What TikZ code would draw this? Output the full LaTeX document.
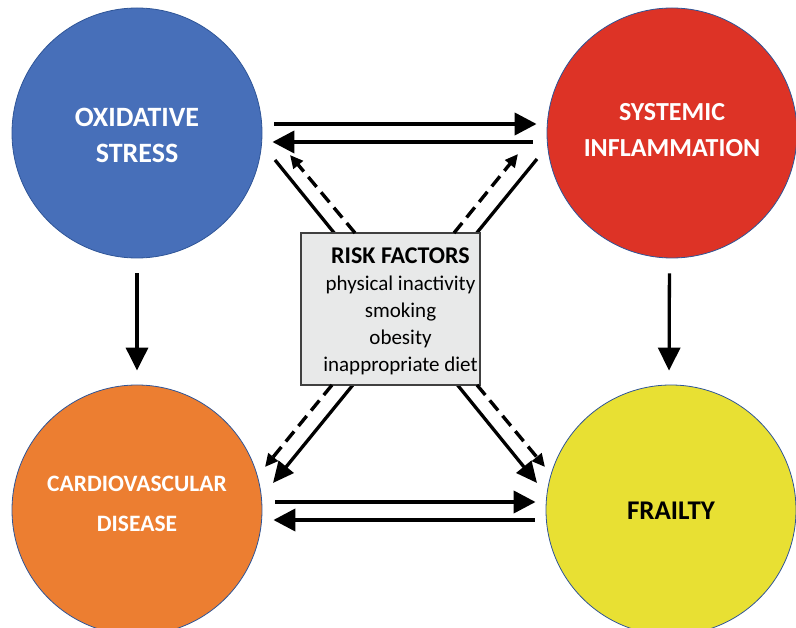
\documentclass[tikz,border=0pt]{standalone}
\usepackage{fontspec}
\setmainfont{Carlito}
\usetikzlibrary{arrows.meta}
\definecolor{cblue}{HTML}{476FB9}
\definecolor{cred}{HTML}{DD3326}
\definecolor{corange}{HTML}{EC7E31}
\definecolor{cyellow}{HTML}{E8E033}
\definecolor{cedge}{HTML}{2F5597}
\definecolor{boxfill}{HTML}{E8E9E9}
\definecolor{boxedge}{HTML}{404040}
\begin{document}
\begin{tikzpicture}[x=1pt,y=-1pt,
  bubble/.style={circle, minimum size=250pt, inner sep=0pt, draw=cedge, line width=0.8pt},
  bubbletext/.style={inner sep=0pt, align=center, font=\bfseries},
  harrow/.style={line width=4pt, -{Triangle[length=22pt,width=22pt]}},
  varrow/.style={line width=3.3pt, -{Triangle[length=23pt,width=22pt]}},
  darrow/.style={line width=3.3pt, -{Triangle[length=21pt,width=19pt]}},
  dasharrow/.style={line width=3.4pt, dash pattern=on 13pt off 7pt, -{Triangle[length=13pt,width=12pt]}},
  riskbox/.style={rectangle, minimum width=179pt, minimum height=152pt, inner sep=0pt,
    fill=boxfill, draw=boxedge, line width=1.2pt},
  risktext/.style={inner sep=0pt, align=center, font=\fontsize{21}{27}\selectfont}]
\clip (0,0) rectangle (796,628);
\useasboundingbox (0,0) rectangle (796,628);

\node[bubble, fill=cblue] (ox) at (137,133) {};
\node[bubble, fill=cred] (si) at (672,133) {};
\node[bubble, fill=corange] (cvd) at (137,510) {};
\node[bubble, fill=cyellow] (fr) at (671,510) {};

\node[bubbletext, text=white, font=\fontsize{28}{36}\selectfont\bfseries] (oxt) at ([yshift=-2pt]ox.center) {OXIDATIVE\\STRESS};
\node[bubbletext, text=white, font=\fontsize{26}{36}\selectfont\bfseries] (sit) at ([yshift=3pt]si.center) {SYSTEMIC\\INFLAMMATION};
\node[bubbletext, text=white, font=\fontsize{23.5}{40}\selectfont\bfseries] (cvdt) at ([yshift=6pt]cvd.center) {CARDIOVASCULAR\\DISEASE};
\node[bubbletext, text=black, font=\fontsize{27}{36}\selectfont\bfseries] (frt) at ([yshift=-1pt]fr.center) {FRAILTY};

% horizontal arrows
\draw[harrow, shorten <=12pt, shorten >=10pt] ([yshift=9pt]ox.east) -- ([yshift=9pt]si.west);
\draw[harrow, shorten <=14pt, shorten >=10pt] ([yshift=-9pt]si.west) -- ([yshift=-9pt]ox.east);
\draw[harrow, shorten <=13pt, shorten >=10pt] ([yshift=8pt]cvd.east) -- ([yshift=8pt]fr.west);
\draw[harrow, shorten <=11pt, shorten >=11pt] ([yshift=-10pt]fr.west) -- ([yshift=-10pt]cvd.east);

% vertical arrows
\draw[varrow, shorten <=15pt, shorten >=14pt] (ox.south) -- (cvd.north);
\draw[varrow, shorten <=15pt, shorten >=14pt] ([xshift=-2.5pt]si.south) -- ([xshift=-2pt]fr.north);

% diagonal solid arrows (behind box)
\coordinate (a1) at (275,160);
\coordinate (a2) at (537,483);
\coordinate (b1) at (537,159);
\coordinate (b2) at (273,483);
\draw[darrow] (a1) -- (a2);
\draw[darrow] (b1) -- (b2);

% risk factors box
\node[riskbox] (risk) at (390.5,309) {};
\node[risktext] (riskt) at ([xshift=10pt,yshift=-2.5pt]risk.center) {{\fontsize{24}{27}\selectfont\bfseries RISK FACTORS}\\physical inactivity\\smoking\\obesity\\inappropriate diet};

% dashed arrows from box
\coordinate (d1s) at (355,233);
\coordinate (d1e) at (290,155);
\coordinate (d2s) at (454,233);
\coordinate (d2e) at (518,154);
\coordinate (d3s) at (332,385);
\coordinate (d3e) at (265,467);
\coordinate (d4s) at (477,385);
\coordinate (d4e) at (545,467);
\draw[dasharrow] (d1s) -- (d1e);
\draw[dasharrow] (d2s) -- (d2e);
\draw[dasharrow] (d3s) -- (d3e);
\draw[dasharrow] (d4s) -- (d4e);
\end{tikzpicture}
\end{document}
